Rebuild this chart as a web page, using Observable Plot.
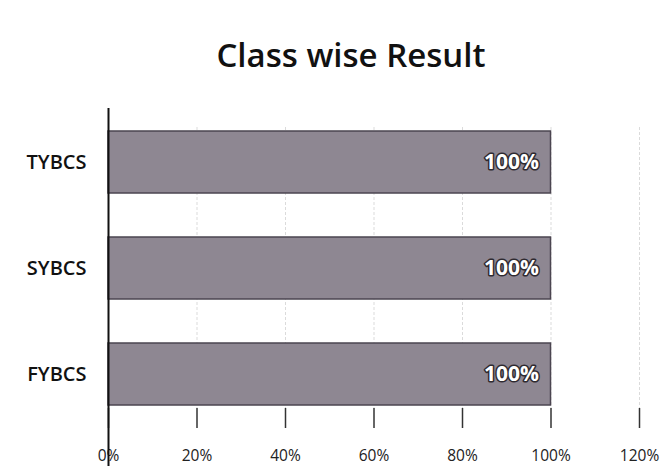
<!DOCTYPE html>
<html>
<head>
<meta charset="utf-8">
<script src="https://cdn.jsdelivr.net/npm/d3@7"></script>
<script src="https://cdn.jsdelivr.net/npm/@observablehq/plot@0.6"></script>
<style>
  html, body { margin: 0; padding: 0; background: #fff; }
  #wrap { width: 661px; height: 466px; background: #fff; }
  .title {
    height: 100px; box-sizing: border-box;
    padding-top: 33px; padding-left: 41px;
    font-family: "Open Sans", sans-serif; font-weight: 600;
    font-size: 33px; line-height: 44px; text-align: center; color: #111;
  }
  #chart svg { display: block; }
  #chart [aria-label="y-axis tick label"] text { font-size: 20px; font-weight: 600; fill: #111; }
  #chart [aria-label="x-axis tick label"] text { font-size: 15.5px; fill: #222; }
</style>
</head>
<body>
<div id="wrap">
  <div class="title">Class wise Result</div>
  <div id="chart"></div>
</div>
<script>
const classes = ["TYBCS", "SYBCS", "FYBCS"];
const results = [1.0, 1.0, 1.0];
const xTicks = [0, 0.2, 0.4, 0.6, 0.8, 1.0, 1.2];

const data = classes.map((c, i) => ({cls: c, value: results[i]}));
const pct = d3.format(".0%");

const chart = Plot.plot({
  width: 661,
  height: 366,
  marginTop: 27,
  marginBottom: 58,
  marginLeft: 108,
  marginRight: 22,
  style: {fontFamily: "Open Sans, sans-serif", background: "white", color: "#222"},
  x: {domain: [0, 1.2], ticks: xTicks},
  y: {domain: classes, paddingInner: 0.418, paddingOuter: 0.028},
  marks: [
    Plot.gridX(xTicks, {stroke: "#888", strokeOpacity: 0.3, strokeDasharray: "3,2"}),
    Plot.barX(data, {x: "value", y: "cls", fill: "#8e8792", stroke: "#4b4550", strokeWidth: 1.5}),
    Plot.text(data, {
      x: "value", y: "cls", text: d => pct(d.value),
      textAnchor: "end", dx: -12, fill: "white", stroke: "#2e2a30", strokeWidth: 3,
      paintOrder: "stroke", fontSize: 21, fontWeight: 700
    }),
    Plot.axisX({ticks: xTicks, tickFormat: pct, tickSize: 20, tickPadding: 21, label: null, stroke: "#333", strokeWidth: 1.5, fontSize: 15.5}),
    Plot.axisY({tickSize: 0, tickPadding: 22, label: null, fontSize: 20, fontWeight: 600}),
    Plot.ruleX([0], {insetTop: -19, insetBottom: -58, stroke: "#111", strokeWidth: 2})
  ]
});
document.getElementById("chart").appendChild(chart);
</script>
</body>
</html>
